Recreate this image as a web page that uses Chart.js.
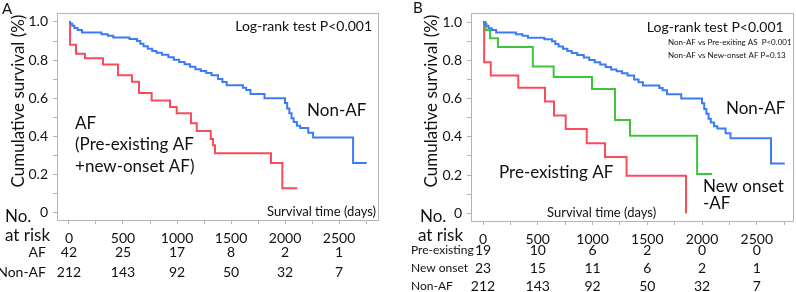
<!DOCTYPE html>
<html>
<head>
<meta charset="utf-8">
<script src="https://cdn.jsdelivr.net/npm/chart.js@4/dist/chart.umd.min.js"></script>
<style>
  html, body { margin: 0; padding: 0; background: #fff; }
  #wrap { position: relative; width: 796px; height: 292px; }
  .panel { position: absolute; top: 0; width: 398px; height: 292px; }
</style>
</head>
<body>
<div id="wrap">
  <div class="panel" style="left:0"><canvas id="chartA" width="398" height="292"></canvas></div>
  <div class="panel" style="left:398px"><canvas id="chartB" width="398" height="292"></canvas></div>
</div>
<script>
// axis ticks
const timeTicks = [0, 250, 500, 750, 1000, 1250, 1500, 1750, 2000, 2250, 2500, 2750];
const survTicks = [0, 0.1, 0.2, 0.3, 0.4, 0.5, 0.6, 0.7, 0.8, 0.9, 1.0];

// Non-AF (same curve in both panels)
const nonAfTime = [0, 10, 30, 50, 80, 120, 300, 360, 410, 560, 630, 660, 690, 730, 770, 810, 860, 920, 970, 1020,
  1070, 1120, 1170, 1220, 1270, 1320, 1380, 1420, 1460, 1610, 1640, 1680, 1810, 2000, 2020, 2040, 2060, 2080,
  2110, 2140, 2215, 2260, 2630, 2756];
const nonAfSurv = [1.0, 0.99, 0.98, 0.968, 0.958, 0.945, 0.936, 0.928, 0.918, 0.91, 0.9, 0.885, 0.872, 0.86, 0.848,
  0.838, 0.828, 0.815, 0.802, 0.79, 0.778, 0.765, 0.752, 0.742, 0.732, 0.72, 0.7, 0.685, 0.668, 0.655, 0.643, 0.622,
  0.6, 0.575, 0.545, 0.52, 0.495, 0.475, 0.455, 0.443, 0.418, 0.393, 0.26, 0.26];

// AF (pre-existing + new onset), panel A
const afTime = [0, 10, 65, 148, 315, 454, 583, 648, 765, 935, 997, 1130, 1183, 1312, 1333, 1352, 1870, 1975, 2114];
const afSurv = [1.0, 0.881, 0.833, 0.81, 0.776, 0.72, 0.686, 0.627, 0.588, 0.553, 0.52, 0.468, 0.427, 0.385, 0.352,
  0.31, 0.26, 0.127, 0.127];

// Pre-existing AF, panel B
const preTime = [0, 10, 70, 322, 566, 648, 755, 947, 1114, 1311, 1854];
const preSurv = [1.0, 0.79, 0.72, 0.657, 0.584, 0.512, 0.441, 0.367, 0.294, 0.197, 0.0];

// New-onset AF, panel B
const newTime = [0, 24, 64, 137, 455, 645, 995, 1205, 1342, 1955, 2091];
const newSurv = [1.0, 0.957, 0.915, 0.869, 0.768, 0.713, 0.65, 0.488, 0.406, 0.205, 0.205];

// numbers at risk
const riskTimes = [0, 500, 1000, 1500, 2000, 2500];
const riskAf = [42, 25, 17, 8, 2, 1];
const riskNonAf = [212, 143, 92, 50, 32, 7];
const riskPre = [19, 10, 6, 2, 0, 0];
const riskNew = [23, 15, 11, 6, 2, 1];

const FONT = 'Lato, "Liberation Sans", sans-serif';
const frameColor = '#b4b4b4';
const blue = '#3c7bf7';
const red = '#fb4a5c';
const green = '#3cc63c';

function toPoints(times, surv) {
  return times.map((t, i) => ({ x: t, y: surv[i] }));
}

function curve(label, times, surv, color) {
  return {
    label: label,
    data: toPoints(times, surv),
    borderColor: color,
    borderWidth: 2,
    pointRadius: 0,
    stepped: 'before',
    fill: false
  };
}

// frame around the plot + all the text that is not an axis tick
const panelText = {
  id: 'panelText',
  beforeDatasetsDraw(chart) {
    const { ctx, chartArea: a } = chart;
    ctx.save();
    ctx.strokeStyle = frameColor;
    ctx.lineWidth = 1;
    ctx.strokeRect(Math.round(a.left) + 0.5, Math.round(a.top) + 0.5,
      Math.round(a.right - a.left) - 1, Math.round(a.bottom - a.top));
    ctx.restore();
  },
  afterDraw(chart, args, opts) {
    const { ctx, scales } = chart;
    const x = scales.x, y = scales.y;
    ctx.save();
    ctx.fillStyle = '#111';
    ctx.textBaseline = 'middle';

    // labels placed in data coordinates
    (opts.notes || []).forEach(n => {
      ctx.font = n.size + 'px ' + FONT;
      ctx.textAlign = n.align || 'left';
      ctx.fillText(n.text, x.getPixelForValue(n.t), y.getPixelForValue(n.v));
    });

    // labels placed on the canvas
    (opts.fixed || []).forEach(n => {
      ctx.font = n.size + 'px ' + FONT;
      ctx.textAlign = n.align || 'left';
      if (n.rotate) {
        ctx.save();
        ctx.translate(n.px, n.py);
        ctx.rotate(-Math.PI / 2);
        ctx.textAlign = 'center';
        ctx.fillText(n.text, 0, 0);
        ctx.restore();
      } else {
        ctx.fillText(n.text, n.px, n.py);
      }
    });

    // number at risk table
    (opts.risk || []).forEach(r => {
      ctx.font = r.labelSize + 'px ' + FONT;
      ctx.textAlign = r.labelAlign;
      ctx.fillText(r.label, r.labelX, r.py);
      ctx.font = '14px ' + FONT;
      ctx.textAlign = 'center';
      r.values.forEach((val, i) => {
        ctx.fillText(String(val), x.getPixelForValue(riskTimes[i]), r.py);
      });
    });
    ctx.restore();
  }
};

function makeChart(id, p) {
  const ctx = document.getElementById(id).getContext('2d');
  return new Chart(ctx, {
    type: 'line',
    data: { datasets: p.datasets },
    options: {
      responsive: false,
      animation: false,
      layout: { padding: { top: 3, right: p.padRight, left: 0, bottom: 0 } },
      plugins: {
        legend: { display: false },
        tooltip: { enabled: false },
        panelText: { notes: p.notes, fixed: p.fixed, risk: p.risk }
      },
      scales: {
        x: {
          type: 'linear',
          min: p.xMin,
          max: p.xMax,
          afterBuildTicks: s => { s.ticks = timeTicks.map(v => ({ value: v })); },
          afterFit: s => { s.height = p.xAxisHeight; },
          grid: { drawOnChartArea: false, drawTicks: true, tickLength: 4, color: frameColor },
          border: { display: false },
          ticks: {
            autoSkip: false,
            maxRotation: 0,
            padding: 6,
            color: '#111',
            font: { family: FONT, size: 14 },
            callback: v => (v % 500 === 0 ? String(v) : '')
          }
        },
        y: {
          type: 'linear',
          min: -0.04,
          max: 1.045,
          afterBuildTicks: s => { s.ticks = survTicks.map(v => ({ value: v })); },
          afterFit: s => { s.width = p.yAxisWidth; },
          grid: { drawOnChartArea: false, drawTicks: true, tickLength: 4, color: frameColor },
          border: { display: false },
          ticks: {
            autoSkip: false,
            padding: 5,
            color: '#111',
            font: { family: FONT, size: 14 },
            callback: v => {
              const k = Math.round(v * 10);
              if (k % 2 !== 0) return '';
              return k === 0 ? '0' : (k / 10).toFixed(1);
            }
          }
        }
      }
    },
    plugins: [panelText]
  });
}

// Panel A
makeChart('chartA', {
  xMin: -111, xMax: 2870, yAxisWidth: 57, xAxisHeight: 72, padRight: 19,
  datasets: [
    curve('Non-AF', nonAfTime, nonAfSurv, blue),
    curve('AF', afTime, afSurv, red)
  ],
  notes: [
    { text: 'Log-rank test P<0.001', t: 2806, v: 0.975, size: 14, align: 'right' },
    { text: 'Non-AF', t: 2204, v: 0.535, size: 17 },
    { text: 'AF', t: 56, v: 0.465, size: 17 },
    { text: '(Pre-existing AF', t: 56, v: 0.355, size: 17 },
    { text: '+new-onset AF)', t: 56, v: 0.24, size: 17 },
    { text: 'Survival time (days)', t: 2843, v: 0.005, size: 13, align: 'right' }
  ],
  fixed: [
    { text: 'A', px: 2, py: 9, size: 15 },
    { text: 'Cumulative survival (%)', px: 19, py: 101, size: 17, rotate: true },
    { text: 'No.', px: 5, py: 217, size: 17 },
    { text: 'at risk', px: 5, py: 236, size: 17 }
  ],
  risk: [
    { label: 'AF', labelX: 46, labelAlign: 'right', labelSize: 14, py: 252, values: riskAf },
    { label: 'Non-AF', labelX: 46, labelAlign: 'right', labelSize: 14, py: 272, values: riskNonAf }
  ]
});

// Panel B
makeChart('chartB', {
  xMin: -110, xMax: 2840, yAxisWidth: 73, xAxisHeight: 71, padRight: 2,
  datasets: [
    curve('Non-AF', nonAfTime, nonAfSurv, blue),
    curve('New onset AF', newTime, newSurv, green),
    curve('Pre-existing AF', preTime, preSurv, red)
  ],
  notes: [
    { text: 'Log-rank test P<0.001', t: 2746, v: 0.973, size: 14, align: 'right' },
    { text: 'Non-AF vs Pre-exiting AS  P<0.001', t: 1689, v: 0.894, size: 8 },
    { text: 'Non-AF vs New-onset AF P=0.13', t: 1689, v: 0.827, size: 8 },
    { text: 'Non-AF', t: 2219, v: 0.547, size: 17 },
    { text: 'Pre-existing AF', t: 146, v: 0.214, size: 17 },
    { text: 'New onset', t: 2009, v: 0.139, size: 17 },
    { text: '-AF', t: 2009, v: 0.05, size: 17 },
    { text: 'Survival time (days)', t: 584, v: 0.005, size: 13 }
  ],
  fixed: [
    { text: 'B', px: 15, py: 8, size: 15 },
    { text: 'Cumulative survival (%)', px: 34, py: 101, size: 17, rotate: true },
    { text: 'No.', px: 22, py: 217, size: 17 },
    { text: 'at risk', px: 20, py: 236, size: 17 }
  ],
  risk: [
    { label: 'Pre-existing', labelX: 13, labelAlign: 'left', labelSize: 12, py: 250, values: riskPre },
    { label: 'New onset', labelX: 13, labelAlign: 'left', labelSize: 12, py: 268, values: riskNew },
    { label: 'Non-AF', labelX: 13, labelAlign: 'left', labelSize: 12, py: 286, values: riskNonAf }
  ]
});
</script>
</body>
</html>
